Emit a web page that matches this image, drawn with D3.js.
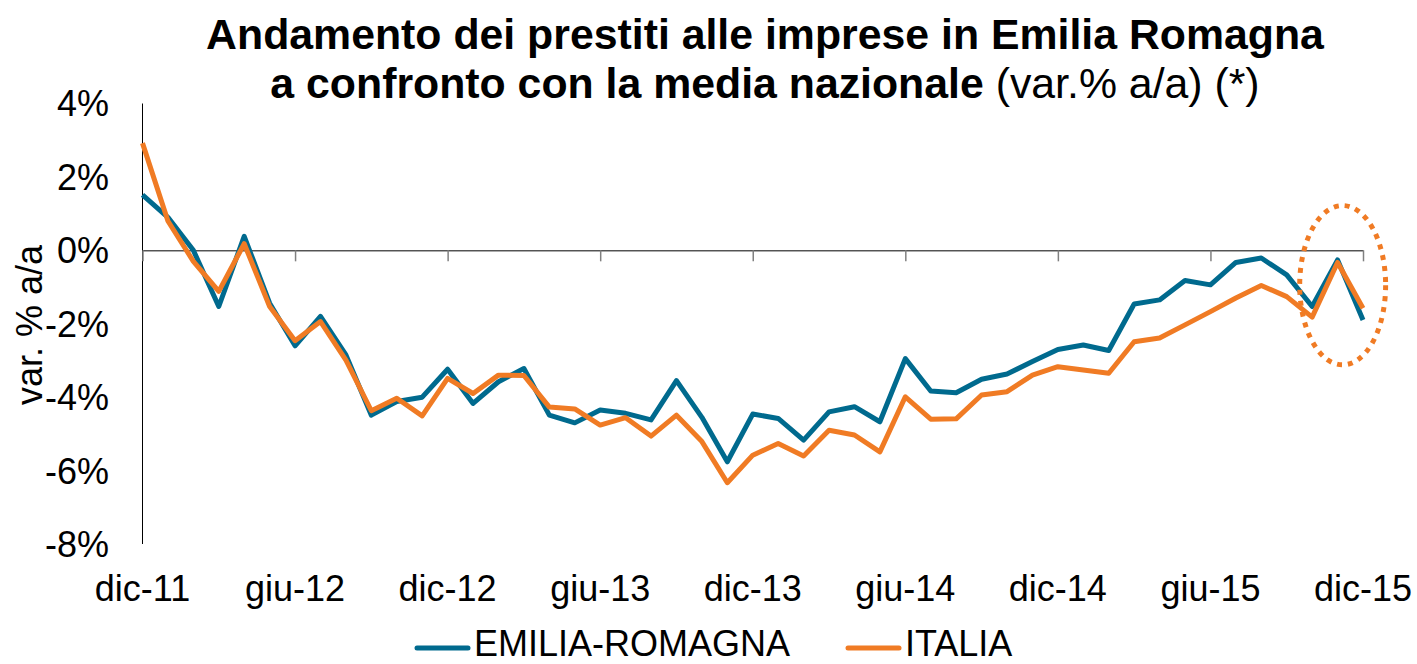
<!DOCTYPE html>
<html>
<head>
<meta charset="utf-8">
<script src="https://cdn.jsdelivr.net/npm/d3@7"></script>
<style>
  body { margin: 0; background: #fff; }
  svg { display: block; font-family: "Liberation Sans", Arial, sans-serif; }
</style>
</head>
<body>
<div id="chart"></div>
<script>
// months from dic-11 to dic-15
const months = [
  "2011-12",
  "2012-01","2012-02","2012-03","2012-04","2012-05","2012-06","2012-07","2012-08","2012-09","2012-10","2012-11","2012-12",
  "2013-01","2013-02","2013-03","2013-04","2013-05","2013-06","2013-07","2013-08","2013-09","2013-10","2013-11","2013-12",
  "2014-01","2014-02","2014-03","2014-04","2014-05","2014-06","2014-07","2014-08","2014-09","2014-10","2014-11","2014-12",
  "2015-01","2015-02","2015-03","2015-04","2015-05","2015-06","2015-07","2015-08","2015-09","2015-10","2015-11","2015-12"
];

const emilia = [1.51, 0.9, 0.0, -1.53, 0.38, -1.44, -2.6, -1.8, -2.85, -4.49, -4.12, -4.0, -3.24,
  -4.17, -3.58, -3.22, -4.49, -4.7, -4.35, -4.44, -4.62, -3.55, -4.55, -5.76, -4.46,
  -4.58, -5.17, -4.4, -4.26, -4.67, -2.95, -3.83, -3.88, -3.51, -3.37, -3.03, -2.7,
  -2.58, -2.73, -1.46, -1.35, -0.82, -0.94, -0.33, -0.21, -0.67, -1.53, -0.26, -1.9];

const italia = [2.92, 0.8, -0.3, -1.12, 0.18, -1.53, -2.46, -1.94, -2.99, -4.37, -4.03, -4.51, -3.49,
  -3.9, -3.4, -3.41, -4.27, -4.32, -4.76, -4.56, -5.06, -4.49, -5.21, -6.33, -5.58,
  -5.26, -5.6, -4.9, -5.03, -5.49, -3.99, -4.6, -4.59, -3.94, -3.85, -3.4, -3.17,
  -3.26, -3.35, -2.49, -2.39, -2.03, -1.67, -1.3, -0.96, -1.26, -1.82, -0.33, -1.58];

const tickMonths = ["2011-12","2012-06","2012-12","2013-06","2013-12","2014-06","2014-12","2015-06","2015-12"];
const tickLabels = ["dic-11","giu-12","dic-12","giu-13","dic-13","giu-14","dic-14","giu-15","dic-15"];
const yTicks = [4, 2, 0, -2, -4, -6, -8];

const seriesNames = ["EMILIA-ROMAGNA", "ITALIA"];
const colors = ["#006a8e", "#f07b24"];

const width = 1417, height = 664;

const svg = d3.select("#chart").append("svg")
  .attr("width", width)
  .attr("height", height);

const x = d3.scaleLinear()
  .domain([0, months.length - 1])
  .range([142.5, 1363]);

const y = d3.scaleLinear()
  .domain([-8, 4])
  .range([544, 103.5]);

// title
const title = svg.append("text")
  .attr("text-anchor", "middle")
  .attr("font-size", 42.8)
  .attr("fill", "#000");
title.append("tspan")
  .attr("x", 765).attr("y", 49)
  .attr("font-weight", "bold")
  .text("Andamento dei prestiti alle imprese in Emilia Romagna");
const t2 = title.append("tspan").attr("x", 765).attr("y", 98);
t2.append("tspan").attr("font-weight", "bold").text("a confronto con la media nazionale");
t2.append("tspan").text(" (var.% a/a) (*)");

// y axis line
svg.append("line")
  .attr("x1", x(0)).attr("x2", x(0))
  .attr("y1", y(4)).attr("y2", y(-8))
  .attr("stroke", "#000").attr("stroke-width", 1);

// zero line with tick marks
const xAxis = svg.append("g")
  .attr("transform", `translate(0,${y(0)})`)
  .call(d3.axisBottom(x)
    .tickValues(tickMonths.map(m => months.indexOf(m)))
    .tickSize(11)
    .tickSizeOuter(0)
    .tickFormat(""));
xAxis.select(".domain").attr("stroke", "#000").attr("stroke-width", 1);
xAxis.selectAll(".tick line").attr("stroke", "#808080").attr("stroke-width", 1.5);

// x labels at bottom
svg.append("g").selectAll("text")
  .data(tickMonths)
  .enter()
  .append("text")
  .attr("x", (d, i) => x(months.indexOf(d)))
  .attr("y", 601)
  .attr("text-anchor", "middle")
  .attr("font-size", 36)
  .text((d, i) => tickLabels[i]);

// y labels
svg.append("g").selectAll("text")
  .data(yTicks)
  .enter()
  .append("text")
  .attr("x", 109)
  .attr("y", d => y(d))
  .attr("dy", "0.36em")
  .attr("text-anchor", "end")
  .attr("font-size", 36)
  .text(d => d + "%");

// y axis title
svg.append("text")
  .attr("transform", "translate(42,325) rotate(-90)")
  .attr("text-anchor", "middle")
  .attr("font-size", 36)
  .text("var. % a/a");

// lines
const line = d3.line()
  .x((d, i) => x(i))
  .y(d => y(d));

[emilia, italia].forEach((values, k) => {
  svg.append("path")
    .datum(values)
    .attr("fill", "none")
    .attr("stroke", colors[k])
    .attr("stroke-width", 5)
    .attr("stroke-linejoin", "round")
    .attr("d", line);
});

// dotted ellipse around the last months
const ringCenter = 47.2, ringValue = -0.95, ringMonths = 1.69, ringSpan = 2.17;
svg.append("ellipse")
  .attr("cx", x(ringCenter))
  .attr("cy", y(ringValue))
  .attr("rx", x(ringMonths) - x(0))
  .attr("ry", y(0) - y(ringSpan))
  .attr("fill", "none")
  .attr("stroke", colors[1])
  .attr("stroke-width", 5)
  .attr("stroke-dasharray", "5 6");

// legend
const legendX = [415, 846];
const legend = svg.append("g").selectAll("g")
  .data(seriesNames)
  .enter()
  .append("g")
  .attr("transform", (d, i) => `translate(${legendX[i]},648)`);
legend.append("line")
  .attr("x1", 2).attr("x2", 53)
  .attr("stroke", (d, i) => colors[i])
  .attr("stroke-width", 5)
  .attr("stroke-linecap", "round");
legend.append("text")
  .attr("x", 59)
  .attr("y", 8)
  .attr("font-size", 36)
  .text(d => d);
</script>
</body>
</html>
